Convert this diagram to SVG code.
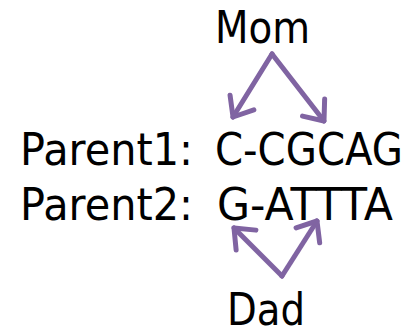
<svg xmlns="http://www.w3.org/2000/svg" width="415" height="333" viewBox="0 0 415 333">
  <style>
    .lbl { font-family: "DejaVu Sans", "Liberation Sans", sans-serif; font-size: 45px; fill: #000; }
    .edge { stroke: #8064A2; stroke-width: 5; fill: none; stroke-linecap: round; stroke-linejoin: round; }
  </style>
  <defs>
    <marker id="open-arrow" viewBox="-22 -17 26 34" markerWidth="26" markerHeight="34" refX="0" refY="0" orient="auto" markerUnits="userSpaceOnUse">
      <path d="M -17 -14 L 0 0 L -17 14" fill="none" stroke="#8064A2" stroke-width="5" stroke-linecap="round" stroke-linejoin="round"/>
    </marker>
  </defs>
  <rect width="415" height="333" fill="#fff"/>

  <g id="mom">
    <text class="lbl" x="215" y="43" textLength="95" lengthAdjust="spacingAndGlyphs">Mom</text>
  </g>
  <g id="parent1">
    <text class="lbl" x="20" y="165" textLength="173" lengthAdjust="spacingAndGlyphs">Parent1:</text>
    <text class="lbl" x="215" y="165" textLength="188" lengthAdjust="spacingAndGlyphs">C-CGCAG</text>
  </g>
  <g id="parent2">
    <text class="lbl" x="20" y="220" textLength="173" lengthAdjust="spacingAndGlyphs">Parent2:</text>
    <text class="lbl" x="217" y="220" textLength="176" lengthAdjust="spacingAndGlyphs">G-ATTTA</text>
  </g>
  <g id="dad">
    <text class="lbl" x="227" y="325" textLength="78" lengthAdjust="spacingAndGlyphs">Dad</text>
  </g>

  <g id="connectors">
    <path class="edge" d="M 272 54 L 233 117" marker-end="url(#open-arrow)"/>
    <path class="edge" d="M 272 54 L 324 121" marker-end="url(#open-arrow)"/>
    <path class="edge" d="M 282 276 L 234 228" marker-end="url(#open-arrow)"/>
    <path class="edge" d="M 282 276 L 317 221" marker-end="url(#open-arrow)"/>
  </g>
</svg>
